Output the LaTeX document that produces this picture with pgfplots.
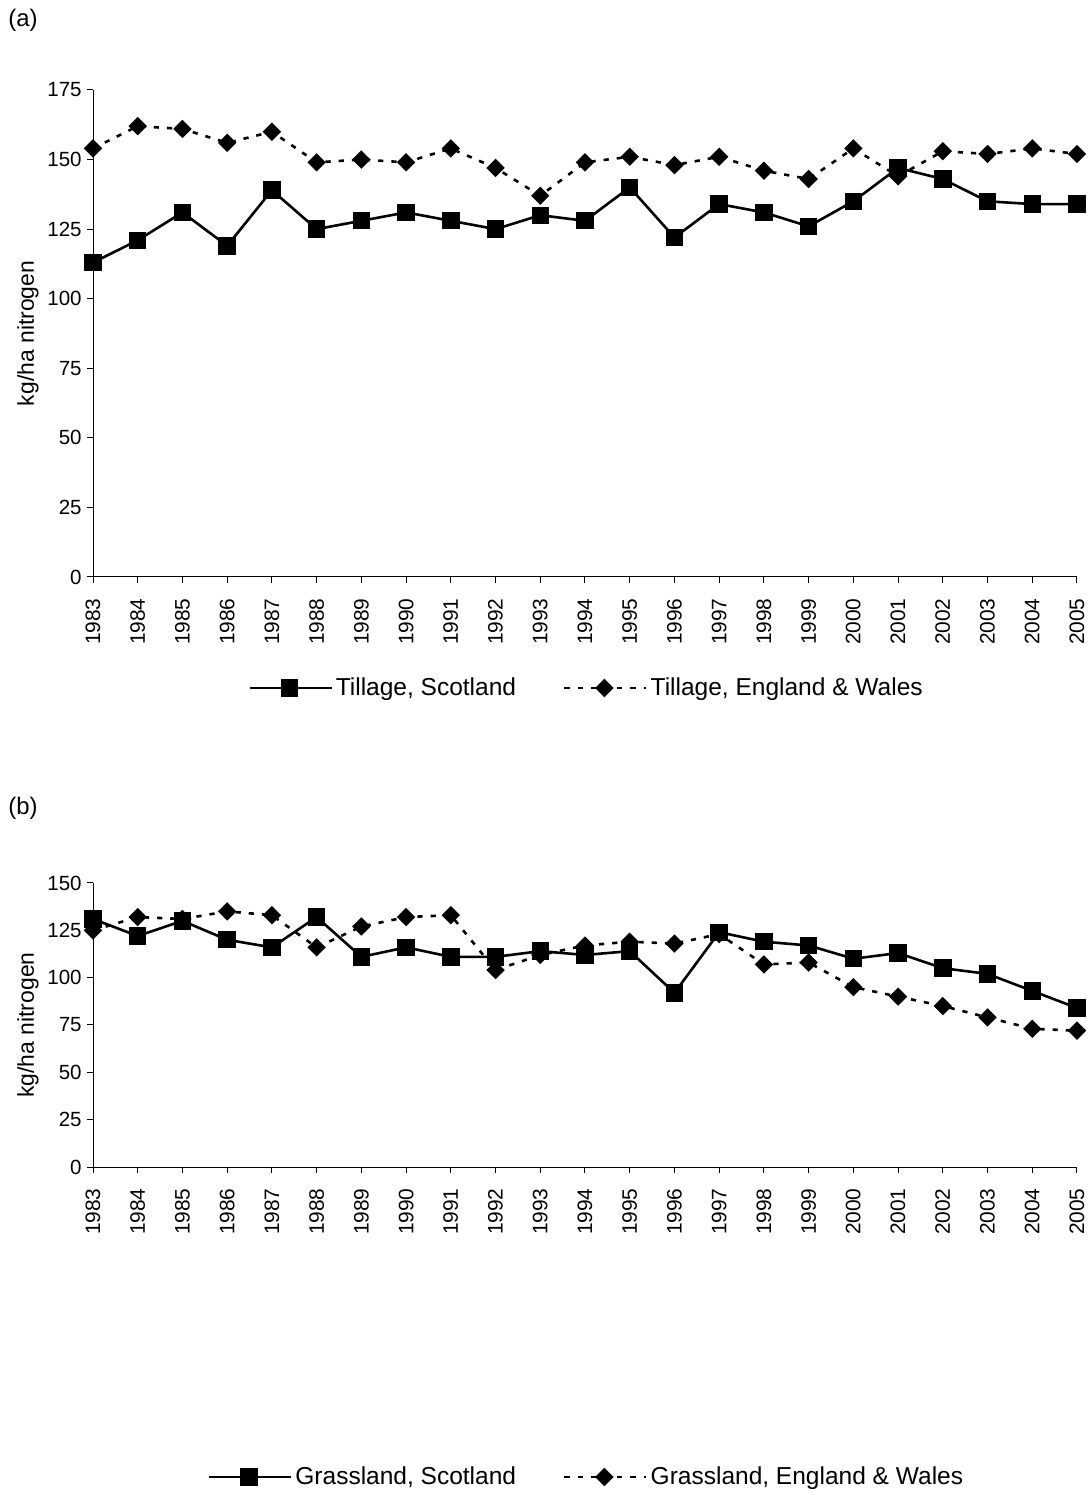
\documentclass[border=0pt]{standalone}
\usepackage{pgfplots}
\pgfplotsset{compat=1.18}
\usepackage{fontspec}
\setmainfont{Liberation Sans}

\pgfplotsset{
  mybase/.style={
    scale only axis,
    width=492bp,
    xmin=1983, xmax=2005,
    ymin=0,
    axis x line*=bottom,
    axis y line*=left,
    axis line style={black, line width=0.5bp},
    tick style={black, line width=0.5bp},
    tick align=outside,
    major tick length=3bp,
    xtick={1983,...,2005},
    /pgf/number format/assume math mode=true,
    xticklabel style={rotate=90, anchor=east, font=\fontsize{10.5}{12}\selectfont, /pgf/number format/1000 sep=, inner xsep=7.5bp, inner ysep=1bp},
    yticklabel style={font=\fontsize{10.3}{12}\selectfont, inner sep=2.5bp},
    ylabel={kg/ha nitrogen},
    ylabel style={at={(axis description cs:-0.066,0.5)}, anchor=center, font=\fontsize{11.5}{13}\selectfont},
    legend columns=2,
    legend image code/.code={\draw[mark repeat=2,mark phase=2,##1] plot coordinates {(0bp,0bp) (20bp,0bp) (41bp,0bp)};},
    legend style={draw=none, fill=none, font=\fontsize{12.3}{14}\selectfont, inner sep=0pt,
      /tikz/every even column/.append style={column sep=22bp},
      nodes={inner sep=1.5bp}},
  },
  scot/.style={black, line width=1.3bp, mark=square*, mark size=3.7bp, mark options={solid}},
  engw/.style={black, line width=1.3bp, dash pattern=on 2.6bp off 4bp, mark=square*, mark size=2.6bp, mark options={solid, rotate=45}},
}

\begin{document}
\begin{tikzpicture}
\path[use as bounding box] (0,0) rectangle (546bp,747.5bp);

\node[anchor=north west, font=\fontsize{12}{14}\selectfont, inner sep=0pt] at (4bp,743bp) {(a)};
\node[anchor=north west, font=\fontsize{12}{14}\selectfont, inner sep=0pt] at (4bp,349bp) {(b)};

\begin{axis}[mybase,
  at={(46.5bp,459bp)}, anchor=south west,
  height=243.5bp,
  ymax=175, ytick={0,25,...,175},
  legend style={at={(axis description cs:0.502,-0.228)}, anchor=center},
]
\addplot[scot] coordinates {
(1983,113) (1984,121) (1985,131) (1986,119) (1987,139) (1988,125) (1989,128) (1990,131)
(1991,128) (1992,125) (1993,130) (1994,128) (1995,140) (1996,122) (1997,134) (1998,131)
(1999,126) (2000,135) (2001,147) (2002,143) (2003,135) (2004,134) (2005,134)};
\addlegendentry{Tillage, Scotland}
\addplot[engw] coordinates {
(1983,154) (1984,162) (1985,161) (1986,156) (1987,160) (1988,149) (1989,150) (1990,149)
(1991,154) (1992,147) (1993,137) (1994,149) (1995,151) (1996,148) (1997,151) (1998,146)
(1999,143) (2000,154) (2001,144) (2002,153) (2003,152) (2004,154) (2005,152)};
\addlegendentry{Tillage, England \& Wales}
\end{axis}

\begin{axis}[mybase,
  at={(46.5bp,164bp)}, anchor=south west,
  height=142bp,
  ymax=150, ytick={0,25,...,150},
  legend style={at={(axis description cs:0.502,-1.0915)}, anchor=center},
]
\addplot[scot] coordinates {
(1983,131) (1984,122) (1985,130) (1986,120) (1987,116) (1988,132) (1989,111) (1990,116)
(1991,111) (1992,111) (1993,114) (1994,112) (1995,114) (1996,92) (1997,124) (1998,119)
(1999,117) (2000,110) (2001,113) (2002,105) (2003,102) (2004,93) (2005,84)};
\addlegendentry{Grassland, Scotland}
\addplot[engw] coordinates {
(1983,125) (1984,132) (1985,131) (1986,135) (1987,133) (1988,116) (1989,127) (1990,132)
(1991,133) (1992,104) (1993,112) (1994,117) (1995,119) (1996,118) (1997,123) (1998,107)
(1999,108) (2000,95) (2001,90) (2002,85) (2003,79) (2004,73) (2005,72)};
\addlegendentry{Grassland, England \& Wales}
\end{axis}
\end{tikzpicture}
\end{document}
